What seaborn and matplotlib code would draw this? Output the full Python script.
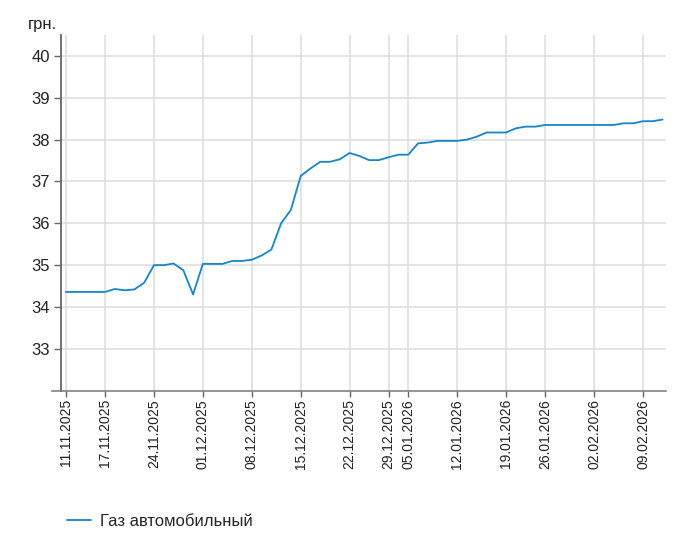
import pandas as pd
import numpy as np
import matplotlib
matplotlib.use("Agg")
import matplotlib.pyplot as plt
import seaborn as sns

# trading days (categorical x axis)
dates = [
    "11.11.2025", "12.11.2025", "13.11.2025", "14.11.2025",
    "17.11.2025", "18.11.2025", "19.11.2025", "20.11.2025", "21.11.2025",
    "24.11.2025", "25.11.2025", "26.11.2025", "27.11.2025", "28.11.2025",
    "01.12.2025", "02.12.2025", "03.12.2025", "04.12.2025", "05.12.2025",
    "08.12.2025", "09.12.2025", "10.12.2025", "11.12.2025", "12.12.2025",
    "15.12.2025", "16.12.2025", "17.12.2025", "18.12.2025", "19.12.2025",
    "22.12.2025", "23.12.2025", "24.12.2025", "26.12.2025",
    "29.12.2025", "30.12.2025",
    "05.01.2026", "06.01.2026", "07.01.2026", "08.01.2026", "09.01.2026",
    "12.01.2026", "13.01.2026", "14.01.2026", "15.01.2026", "16.01.2026",
    "19.01.2026", "20.01.2026", "21.01.2026", "22.01.2026",
    "26.01.2026", "27.01.2026", "28.01.2026", "29.01.2026", "30.01.2026",
    "02.02.2026", "03.02.2026", "04.02.2026", "05.02.2026", "06.02.2026",
    "09.02.2026", "10.02.2026", "11.02.2026",
]

prices = [
    34.36, 34.36, 34.36, 34.36,
    34.36, 34.43, 34.40, 34.42, 34.58,
    35.00, 35.00, 35.04, 34.88, 34.30,
    35.03, 35.03, 35.03, 35.10, 35.10,
    35.13, 35.23, 35.37, 36.00, 36.32,
    37.13, 37.31, 37.47, 37.47, 37.53,
    37.68, 37.61, 37.51, 37.51,
    37.58, 37.64,
    37.64, 37.91, 37.93, 37.97, 37.97,
    37.97, 38.00, 38.07, 38.17, 38.17,
    38.17, 38.27, 38.31, 38.31,
    38.35, 38.35, 38.35, 38.35, 38.35,
    38.35, 38.35, 38.35, 38.39, 38.39,
    38.44, 38.44, 38.48,
]

tick_labels = [
    "11.11.2025", "17.11.2025", "24.11.2025", "01.12.2025", "08.12.2025",
    "15.12.2025", "22.12.2025", "29.12.2025", "05.01.2026", "12.01.2026",
    "19.01.2026", "26.01.2026", "02.02.2026", "09.02.2026",
]

series_name = "Газ автомобильный"
y_ticks = [33, 34, 35, 36, 37, 38, 39, 40]

df = pd.DataFrame({"date": dates, "price": prices})
df["pos"] = np.arange(len(df))

sns.set_style("white")
plt.rcParams["font.family"] = ["Liberation Sans", "DejaVu Sans"]

fig = plt.figure(figsize=(6.99, 5.52), dpi=100)
ax = fig.add_axes([0.0873, 0.2922, 0.8655, 0.6444])

sns.lineplot(data=df, x="pos", y="price", ax=ax, color="#1585c8",
             linewidth=1.3, label=series_name, legend=False)

tick_pos = [dates.index(d) for d in tick_labels]
ax.set_xticks(tick_pos)
ax.set_xticklabels(tick_labels, rotation=90, fontsize=10, color="#222222")
ax.set_yticks(y_ticks)
ax.set_yticklabels([str(v) for v in y_ticks], fontsize=12, color="#222222")
ax.set_xlim(-0.5, 61.35)
ax.set_ylim(32, 40.5)
ax.set_xlabel("")
ax.set_ylabel("")

ax.grid(True, color="#dddddd", linewidth=1.1)
ax.set_axisbelow(True)
for s in ["top", "right"]:
    ax.spines[s].set_visible(False)
ax.spines["left"].set_color("#666666")
ax.spines["left"].set_linewidth(1.3)
ax.spines["bottom"].set_color("#777777")
ax.spines["bottom"].set_linewidth(1.1)
ax.spines["bottom"].set_bounds(-1.4, 61.35)
ax.tick_params(axis="y", length=5, width=1, color="#666666", pad=3, left=True)
ax.tick_params(axis="x", length=4, width=1, color="#666666", pad=2, bottom=True)

fig.text(57 / 699, 1 - 24 / 552, "грн.", ha="right", va="center",
         fontsize=12, color="#222222")

handles, labels = ax.get_legend_handles_labels()
fig.legend(handles, labels, loc="center left",
           bbox_to_anchor=(67 / 699, 1 - 521 / 552), frameon=False,
           fontsize=12, handlelength=1.45, handletextpad=0.55,
           borderpad=0, borderaxespad=0)

fig.savefig("out.png", dpi=100)
